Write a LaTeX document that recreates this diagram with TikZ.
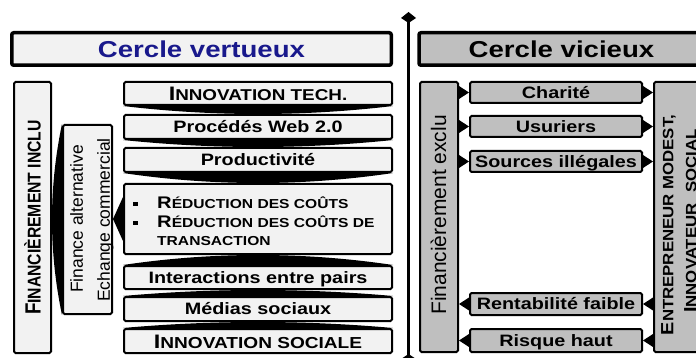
\documentclass[tikz,border=0pt]{standalone}
\usepackage{fontspec}
\setmainfont{Liberation Sans}
\newfontfamily\hfont{Liberation Sans}[FakeStretch=1.2]
\newfontfamily\cfont{Liberation Sans}[FakeStretch=0.85]
\newfontfamily\efont{Liberation Sans}[FakeStretch=1.12]
\usetikzlibrary{arrows.meta,calc}
\definecolor{lgray}{RGB}{242,242,242}
\definecolor{mgray}{RGB}{191,191,191}
\definecolor{navy}{RGB}{25,25,140}
\newcommand\BS[4]{{\fontsize{#1}{#1}\selectfont #2}{\fontsize{#3}{#3}\selectfont #4}}
\newcommand\lens[3]{\fill (#1) .. controls ($1.3333*(#3)-0.3333*(#2)$) and ($1.3333*(#3)-0.3333*(#1)$) .. (#2) -- cycle;}
\begin{document}
\begin{tikzpicture}[x=1pt,y=-1pt,
  hdr/.style={draw, line width=3.5pt, rounded corners=2pt, minimum height=32.5pt, inner sep=0pt,
    font=\hfont\bfseries\fontsize{23}{25}\selectfont, text height=16.5pt, text depth=0pt},
  box/.style={draw, line width=2pt, rounded corners=1.5pt, inner sep=0pt},
  lbox/.style={box, fill=lgray},
  gbox/.style={box, fill=mgray},
  htxt/.style={font=\hfont\bfseries\fontsize{16.5}{18}\selectfont, text height=11.8pt, text depth=0pt},
  stk/.style={lbox, htxt, minimum width=268pt},
  sml/.style={gbox, htxt, minimum width=172pt},
  rtxt/.style={rotate=90, inner sep=0pt},
  sep/.style={line width=3.5pt, {Kite[length=11pt,width=15pt,inset=5pt]}-{Kite[length=11pt,width=15pt,inset=5pt]}}
]
\useasboundingbox (0,0) rectangle (696,358);
\clip (0,0) rectangle (696,358);
\fill[white] (0,0) rectangle (696,358);

% headers
\node[hdr, fill=lgray, text=navy, minimum width=379.5pt] (hl) at (201.5,49) {Cercle vertueux};
\node[hdr, fill=mgray, minimum width=285pt] (hr) at (561.5,49) {Cercle vicieux};

% separator
\coordinate (stop) at (408.5,12);
\coordinate (sbot) at (408.5,365);
\draw[sep] (stop) -- (sbot);

% left column
\node[lbox, minimum width=37pt, minimum height=271pt] (fin) at (32.5,217.5) {};
\node[rtxt, font=\cfont\bfseries, text height=15.7pt, text depth=0pt] (finT) at (32.8,217.5)
  {\BS{22}{F}{18.5}{INANCIÈREMENT INCLU}};
\node[lbox, minimum width=49pt, minimum height=189pt] (fa) at (87.5,219.5) {};
\node[rtxt, font=\fontsize{17.5}{18}\selectfont, text height=12.5pt, text depth=0pt] (fa1) at (76.5,219) {Finance alternative};
\node[rtxt, font=\fontsize{17.5}{18}\selectfont, text height=12.5pt, text depth=0pt] (fa2) at (103.5,220) {Echange commercial};

\node[stk, minimum height=23pt, text height=14pt] (t1) at (258,93.5) {\BS{19.5}{I}{15.7}{NNOVATION TECH.}};
\node[stk, minimum height=24pt] (t2) at (258,127) {Procédés Web 2.0};
\node[stk, minimum height=24pt] (t3) at (258,160) {Productivité};
\node[lbox, minimum width=268pt, minimum height=70pt] (rd) at (258,219) {};
\node[stk, minimum height=23pt] (b1) at (258,277.5) {Interactions entre pairs};
\node[stk, minimum height=24pt] (b2) at (258,309) {Médias sociaux};
\node[stk, minimum height=24pt, text height=14pt] (b3) at (258,341) {\BS{19.5}{I}{15.9}{NNOVATION SOCIALE}};

\node[anchor=base west, inner sep=0pt, font=\hfont\bfseries] (r1) at (157,209) {\BS{16.8}{R}{13}{ÉDUCTION DES COÛTS}};
\node[anchor=base west, inner sep=0pt, font=\hfont\bfseries] (r2) at (157,228) {\BS{16.8}{R}{13}{ÉDUCTION DES COÛTS DE}};
\node[anchor=base west, inner sep=0pt, font=\hfont\bfseries] (r3) at (157,246) {\BS{13}{}{13}{TRANSACTION}};
\fill (133,201.8) rectangle (137.5,206.3);
\fill (133,220.8) rectangle (137.5,225.3);

% funnels between stacked boxes
\lens{t1.south west}{t1.south east}{t2.north}
\lens{t2.south west}{t2.south east}{t3.north}
\lens{t3.south west}{t3.south east}{rd.north}
\lens{b1.north west}{b1.north east}{rd.south}
\lens{b2.north west}{b2.north east}{b1.south}
\lens{b3.north west}{b3.north east}{b2.south}
\lens{fa.north west}{fa.south west}{fin.east |- fa.west}
\fill ($(rd.west)+(0,-22)$) -- (fa.east |- rd.west) -- ($(rd.west)+(0,22)$) -- cycle;

% right column
\node[gbox, minimum width=38pt, minimum height=270pt] (ex) at (439,217) {};
\node[rtxt, font=\fontsize{21}{22}\selectfont, text height=15pt, text depth=0pt] (exT) at (438.5,215) {Financièrement exclu};
\node[gbox, minimum width=55pt, minimum height=270pt] (en) at (681.5,217) {};
\node[rtxt, font=\efont\bfseries, text height=12.7pt, text depth=0pt] (en1) at (667,225) {\BS{17.7}{E}{15}{NTREPRENEUR MODEST,}};
\node[rtxt, font=\efont\bfseries, text height=12.7pt, text depth=0pt] (en2) at (690,221) {\BS{17.7}{I}{15}{NNOVATEUR\hspace{6pt} SOCIAL}};

\node[sml, minimum height=21pt] (c1) at (556,92.5) {Charité};
\node[sml, minimum height=21pt] (c2) at (556,126.5) {Usuriers};
\node[sml, minimum height=21pt] (c3) at (556,161.5) {Sources illégales};
\node[sml, minimum height=22pt] (c4) at (556,304) {Rentabilité faible};
\node[sml, minimum height=23pt] (c5) at (556,340.5) {Risque haut};

% small arrowheads
\foreach \n in {c1,c2,c3}{
  \fill ($(ex.east |- \n.west)+(0,-6.5)$) -- (\n.west) -- ($(ex.east |- \n.west)+(0,6.5)$) -- cycle;
  \fill ($(\n.east)+(0,-6.5)$) -- (en.west |- \n.east) -- ($(\n.east)+(0,6.5)$) -- cycle;
}
\foreach \n in {c4,c5}{
  \fill ($(\n.west)+(0,-6.5)$) -- (ex.east |- \n.west) -- ($(\n.west)+(0,6.5)$) -- cycle;
  \fill ($(en.west |- \n.east)+(0,-6.5)$) -- (\n.east) -- ($(en.west |- \n.east)+(0,6.5)$) -- cycle;
}
\end{tikzpicture}
\end{document}
